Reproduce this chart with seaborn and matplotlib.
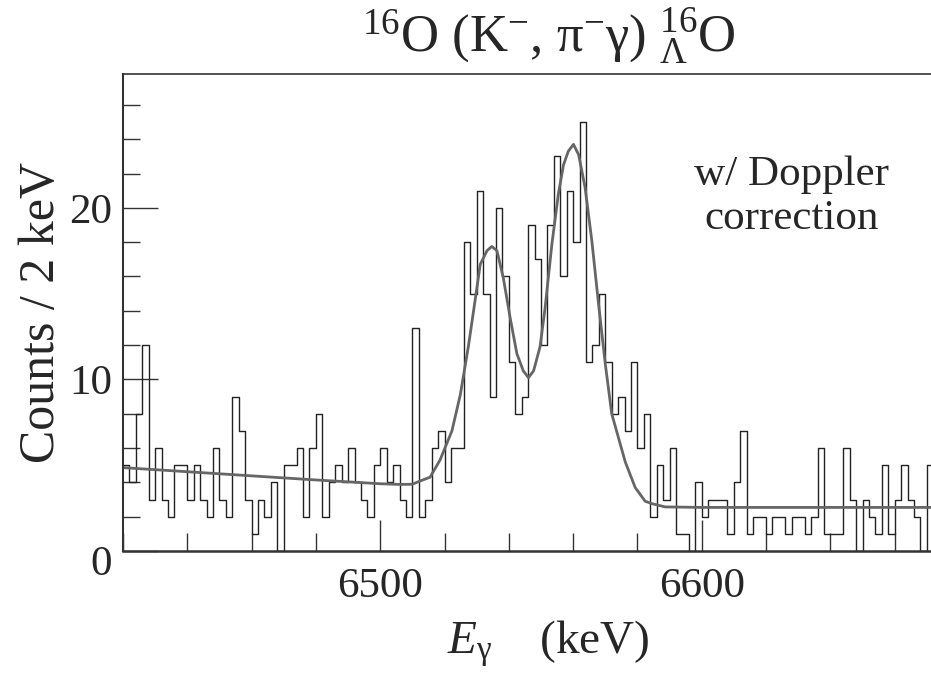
import numpy as np
import pandas as pd
import matplotlib
matplotlib.use("Agg")
import matplotlib.pyplot as plt
import matplotlib.transforms as mtransforms
from matplotlib.ticker import MultipleLocator
import seaborn as sns

# histogram: 2 keV bins starting at 6420 keV
bin_start = 6420
bin_width = 2
counts = [5, 4, 8, 12, 3, 6, 3, 2, 5, 5,
          3, 5, 3, 2, 6, 3, 2, 9, 7, 3,
          1, 3, 2, 4, 0, 5, 5, 6, 2, 6,
          8, 2, 4, 5, 4, 6, 4, 3, 2, 5,
          6, 4, 5, 3, 2, 13, 2, 3, 6, 7,
          4, 6, 6, 18, 15, 21, 15, 9, 20, 16,
          11, 8, 9, 19, 17, 12, 19, 23, 16, 21,
          18, 25, 11, 12, 15, 11, 8, 9, 7, 11,
          6, 8, 2, 5, 3, 6, 1, 1, 0, 4,
          2, 3, 3, 3, 1, 4, 7, 1, 2, 2,
          1, 2, 2, 1, 2, 2, 1, 2, 6, 1,
          1, 1, 6, 3, 0, 3, 2, 1, 5, 1,
          3, 5, 3, 2, 0, 5]

# fitted curve
fit_e = [6420, 6440, 6460, 6480, 6500, 6506, 6510, 6512, 6515.5, 6518.6,
         6522.3, 6524.9, 6527.4, 6529.5, 6531.1, 6533.2, 6534.7, 6536.3,
         6538.3, 6540.4, 6542.5, 6544.5, 6546.1, 6547.7, 6549.7, 6551.3,
         6553.4, 6555.4, 6557.0, 6558.5, 6560.1, 6561.7, 6563.7, 6565.8,
         6567.9, 6570.0, 6572.0, 6574.1, 6576.2, 6579.3, 6582.4, 6584.5,
         6588.6, 6600, 6640, 6672]
fit_c = [4.86, 4.62, 4.38, 4.14, 3.92, 3.88, 3.89, 4.05, 4.3, 5.3,
         7.0, 9.1, 11.9, 14.6, 16.7, 17.5, 17.75, 17.5,
         15.9, 13.6, 11.5, 10.5, 10.1, 10.5, 11.9, 14.2,
         17.9, 20.8, 22.5, 23.3, 23.7, 23.1, 21.2, 18.1,
         14.4, 10.9, 8.0, 6.6, 5.2, 3.7, 2.9, 2.76,
         2.57, 2.54, 2.54, 2.54]

edges = (bin_start + bin_width * np.arange(len(counts) + 1)).tolist()
hist_df = pd.DataFrame({"energy": np.array(edges[:-1]) + bin_width / 2, "n": counts})
fit_df = pd.DataFrame({"energy": fit_e, "n": fit_c})

sns.set_theme(style="ticks")
plt.rcParams["font.family"] = ["Liberation Serif", "DejaVu Serif"]
plt.rcParams["mathtext.fontset"] = "custom"
plt.rcParams["mathtext.rm"] = "Liberation Serif"
plt.rcParams["mathtext.it"] = "Liberation Serif:italic"

fig = plt.figure(figsize=(9.31, 6.8), dpi=100)
ax = fig.add_axes([123 / 931, 1 - 551 / 680, 1 - 123 / 931, (551 - 74) / 680])

sns.histplot(data=hist_df, x="energy", weights="n", bins=edges, element="step",
             fill=False, color="#222222", linewidth=1.0, ax=ax)
sns.lineplot(data=fit_df, x="energy", y="n", color="#666666", linewidth=2.0, ax=ax)

ax.set_xlim(6420, 6671.3)
ax.set_ylim(0, 27.8)

ax.xaxis.set_major_locator(MultipleLocator(100))
ax.xaxis.set_minor_locator(MultipleLocator(20))
ax.yaxis.set_major_locator(MultipleLocator(10))
ax.yaxis.set_minor_locator(MultipleLocator(2))
ax.tick_params(axis="x", which="major", direction="in", length=22, width=1.0,
               color="#333333", labelsize=31, pad=12)
ax.tick_params(axis="x", which="minor", direction="in", length=13, width=1.0,
               color="#333333")
ax.tick_params(axis="y", which="major", direction="in", length=25, width=1.0,
               color="#333333", labelsize=31, pad=8)
ax.tick_params(axis="y", which="minor", direction="in", length=12, width=1.0,
               color="#333333")

for side in ["left", "bottom", "top"]:
    ax.spines[side].set_color("#333333")
ax.spines["left"].set_linewidth(1.5)
ax.spines["bottom"].set_linewidth(1.8)
ax.spines["top"].set_linewidth(1.2)
ax.spines["right"].set_visible(False)

ax.set_xlabel(r"$E_{\mathrm{γ}}$    (keV)", fontsize=34, labelpad=9)
ax.xaxis.label.set_x((548 - 123) / 808)
ax.set_ylabel("Counts / 2 keV", fontsize=36, labelpad=3)

fig.text(549 / 931, 1 - 36 / 680, r"$^{16}$O (K$^{-}$, π$^{-}$γ) $^{16}_{\mathrm{Λ}}$O",
         fontsize=38, ha="center", va="center")
fig.text(792 / 931, 1 - 197 / 680, "w/ Doppler\ncorrection", fontsize=31,
         ha="center", va="center", multialignment="center", linespacing=1.2)

# the "0" label sits a little below the axis line in the original
fig.canvas.draw()
for lbl in ax.get_yticklabels():
    if lbl.get_text() == "0":
        lbl.set_transform(lbl.get_transform() +
                          mtransforms.ScaledTranslation(0, -9 / 100, fig.dpi_scale_trans))

fig.savefig("out.png", dpi=100)
